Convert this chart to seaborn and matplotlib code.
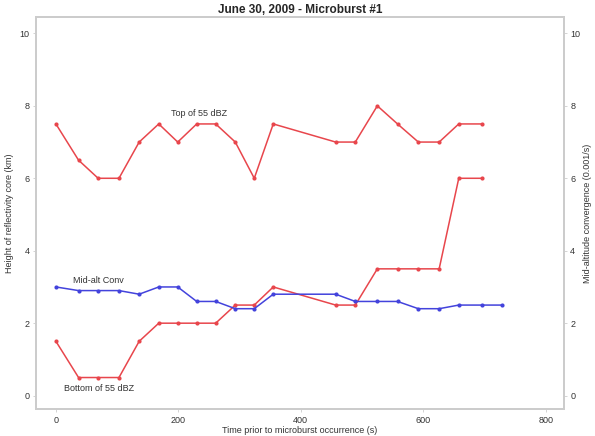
import matplotlib
matplotlib.use("Agg")
import matplotlib.pyplot as plt
import seaborn as sns
import pandas as pd

# Scan times before the microburst (s)
times_core = [0, 37, 69, 103, 136, 168, 199, 230, 261, 293, 324, 355,
              457, 489, 525, 558, 592, 626, 658, 696]
times_conv = times_core + [729]

# Reflectivity core heights (km)
top_55dbz = [7.5, 6.5, 6.0, 6.0, 7.0, 7.5, 7.0, 7.5, 7.5, 7.0, 6.0, 7.5,
             7.0, 7.0, 8.0, 7.5, 7.0, 7.0, 7.5, 7.5]
bottom_55dbz = [1.5, 0.5, 0.5, 0.5, 1.5, 2.0, 2.0, 2.0, 2.0, 2.5, 2.5, 3.0,
                2.5, 2.5, 3.5, 3.5, 3.5, 3.5, 6.0, 6.0]

# Mid-altitude convergence (0.001/s)
mid_alt_conv = [3.0, 2.9, 2.9, 2.9, 2.8, 3.0, 3.0, 2.6, 2.6, 2.4, 2.4, 2.8,
                2.8, 2.6, 2.6, 2.6, 2.4, 2.4, 2.5, 2.5, 2.5]

x_ticks = [0, 200, 400, 600, 800]
y_ticks = [0, 2, 4, 6, 8, 10]

sns.set_style("white")
plt.rcParams["font.family"] = ["Liberation Sans", "DejaVu Sans"]

red = "#e8464c"
blue = "#4343dc"
spine_gray = "#cccccc"
text_gray = "#333333"

fig = plt.figure(figsize=(5.95, 4.36), dpi=100)
ax = fig.add_axes([0.060, 0.061, 0.888, 0.899])

core = pd.DataFrame({"t": times_core, "top": top_55dbz, "bottom": bottom_55dbz})
conv = pd.DataFrame({"t": times_conv, "conv": mid_alt_conv})

line_kw = dict(marker="o", markersize=3.0, markeredgewidth=0, linewidth=1.1)
sns.lineplot(data=core, x="t", y="top", color=red, ax=ax, **line_kw)
sns.lineplot(data=core, x="t", y="bottom", color=red, ax=ax, **line_kw)

ax2 = ax.twinx()
sns.lineplot(data=conv, x="t", y="conv", color=blue, ax=ax2, **line_kw)

xlim = (-33, 830)
ylim = (-0.38, 10.44)
for a in (ax, ax2):
    a.set_xlim(*xlim)
    a.set_ylim(*ylim)
    a.set_yticks(y_ticks)
    for s in a.spines.values():
        s.set_color(spine_gray)
        s.set_linewidth(1.4)
    a.tick_params(axis="both", direction="out", length=2.5, width=0.6,
                  color=spine_gray, labelsize=6.5, labelcolor=text_gray, pad=2)

ax.set_xticks(x_ticks)
ax.set_xlabel("Time prior to microburst occurrence (s)", fontsize=6.5,
              color=text_gray, labelpad=1)
ax.set_ylabel("Height of reflectivity core (km)", fontsize=6.5,
              color=text_gray, labelpad=4)
ax2.set_ylabel("Mid-altitude convergence (0.001/s)", fontsize=6.5,
               color=text_gray, rotation=90, labelpad=2)
ax.tick_params(axis="y", left=True)
ax.tick_params(axis="x", bottom=True)
ax2.tick_params(axis="y", right=True)

ax.text(234, 7.79, "Top of 55 dBZ", fontsize=6.5, color=text_gray,
        ha="center", va="center")
ax.text(70, 3.17, "Mid-alt Conv", fontsize=6.5, color=text_gray,
        ha="center", va="center")
ax.text(70, 0.2, "Bottom of 55 dBZ", fontsize=6.5, color=text_gray,
        ha="center", va="center")

fig.suptitle("June 30, 2009 - Microburst #1", fontsize=8.5, fontweight="bold",
             y=0.99, x=0.505)

fig.savefig("out.png", dpi=100)
